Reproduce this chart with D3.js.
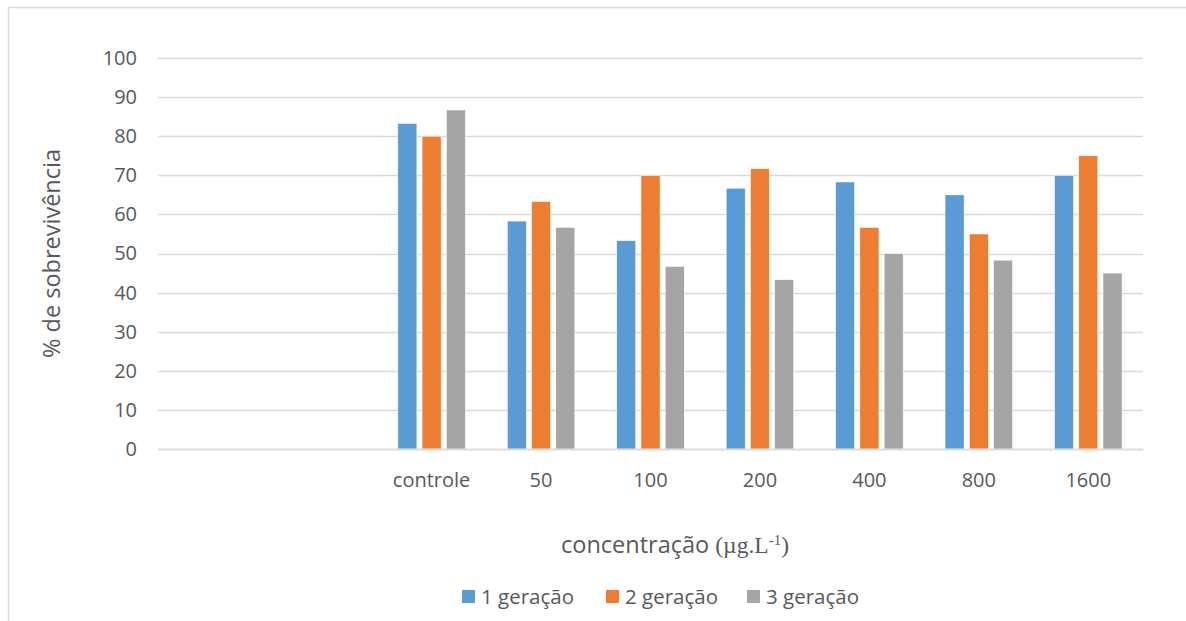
<!DOCTYPE html>
<html>
<head>
<meta charset="utf-8">
<script src="https://cdn.jsdelivr.net/npm/d3@7"></script>
<style>
  html, body { margin: 0; padding: 0; background: #fff; }
  svg { display: block; }
</style>
</head>
<body>
<svg id="chart" width="1186" height="621"></svg>
<script>
// ---- data ----
const blankSlots = ["blank1", "blank2"];
const categories = ["controle", "50", "100", "200", "400", "800", "1600"];
const seriesNames = ["1 geração", "2 geração", "3 geração"];
const gen1 = [83.3, 58.3, 53.3, 66.7, 68.3, 65.0, 70.0];
const gen2 = [80.0, 63.3, 70.0, 71.7, 56.7, 55.0, 75.0];
const gen3 = [86.7, 56.7, 46.7, 43.3, 50.0, 48.3, 45.0];
const yTicks = [0, 10, 20, 30, 40, 50, 60, 70, 80, 90, 100];
const colors = ["#5B9BD5", "#ED7D31", "#A5A5A5"];

const seriesValues = [gen1, gen2, gen3];

const svg = d3.select("#chart");
const W = 1186, H = 621;
const plot = { left: 158, right: 1143, top: 58, bottom: 449 };
const textColor = "#595959";
const font = "'Open Sans', sans-serif";

// outer chart border
svg.append("rect")
  .attr("x", 8.5).attr("y", 7.5)
  .attr("width", 1300).attr("height", 700)
  .attr("fill", "none").attr("stroke", "#D9D9D9").attr("stroke-width", 1.5);

const x = d3.scaleBand()
  .domain([...blankSlots, ...categories])
  .range([plot.left, plot.right])
  .padding(0);

const y = d3.scaleLinear().domain([0, 100]).range([plot.bottom, plot.top]);

// grid lines
svg.append("g")
  .selectAll("line")
  .data(yTicks)
  .join("line")
  .attr("x1", plot.left).attr("x2", plot.right)
  .attr("y1", d => Math.round(y(d)) + 0.5).attr("y2", d => Math.round(y(d)) + 0.5)
  .attr("stroke", "#D9D9D9").attr("stroke-width", 1.5);

// y axis labels
const yAxis = d3.axisLeft(y).tickValues(yTicks).tickSize(0).tickPadding(0);
const gy = svg.append("g").attr("transform", `translate(137,0)`).call(yAxis);
gy.select(".domain").remove();
gy.selectAll("text")
  .attr("fill", textColor)
  .style("font-family", font)
  .style("font-size", "20px");

// bars
const bw = x.bandwidth();
const barW = bw / 5.73;
const gap = barW * 0.27;
const groupW = 3 * barW + 2 * gap;

const barData = [];
categories.forEach((c, i) => {
  seriesValues.forEach((vals, s) => {
    barData.push({ cat: c, s, v: vals[i] });
  });
});

svg.append("g")
  .selectAll("rect")
  .data(barData)
  .join("rect")
  .attr("x", d => x(d.cat) + (bw - groupW) / 2 + d.s * (barW + gap))
  .attr("y", d => y(d.v))
  .attr("width", barW)
  .attr("height", d => y(0) - y(d.v))
  .attr("fill", d => colors[d.s])
  .attr("stroke", "#fff").attr("stroke-width", 0.6);

// x axis
const xAxis = d3.axisBottom(x)
  .tickSize(0).tickPadding(0)
  .tickFormat(d => blankSlots.includes(d) ? "" : d);
const gx = svg.append("g").attr("transform", `translate(0,${plot.bottom})`).call(xAxis);
gx.select(".domain").attr("stroke", "#D9D9D9").attr("stroke-width", 1.5);
gx.selectAll("text")
  .attr("y", 38)
  .attr("dy", 0)
  .attr("fill", textColor)
  .style("font-family", font)
  .style("font-size", "20px");

// y axis title
svg.append("text")
  .attr("transform", `translate(60,${(plot.top + plot.bottom) / 2}) rotate(-90)`)
  .attr("text-anchor", "middle")
  .attr("fill", textColor)
  .style("font-family", font)
  .style("font-size", "23.5px")
  .text("% de sobrevivência");

// x axis title
const xt = svg.append("text")
  .attr("x", 675).attr("y", 553)
  .attr("text-anchor", "middle")
  .attr("fill", textColor)
  .style("font-size", "23.5px");
xt.append("tspan").style("font-family", font).text("concentração ");
xt.append("tspan").style("font-family", "'Liberation Serif', serif").text("(µg.L");
xt.append("tspan").style("font-family", "'Liberation Serif', serif")
  .attr("baseline-shift", "super").style("font-size", "15px").text("-1");
xt.append("tspan").style("font-family", "'Liberation Serif', serif").text(")");

// legend
const legendX = [462, 606, 747];
const lg = svg.append("g");
seriesNames.forEach((name, i) => {
  lg.append("rect")
    .attr("x", legendX[i]).attr("y", 590)
    .attr("width", 13).attr("height", 13)
    .attr("fill", colors[i]);
  lg.append("text")
    .attr("x", legendX[i] + 19).attr("y", 604)
    .attr("fill", textColor)
    .style("font-family", font)
    .style("font-size", "20.5px")
    .text(name);
});
</script>
</body>
</html>
